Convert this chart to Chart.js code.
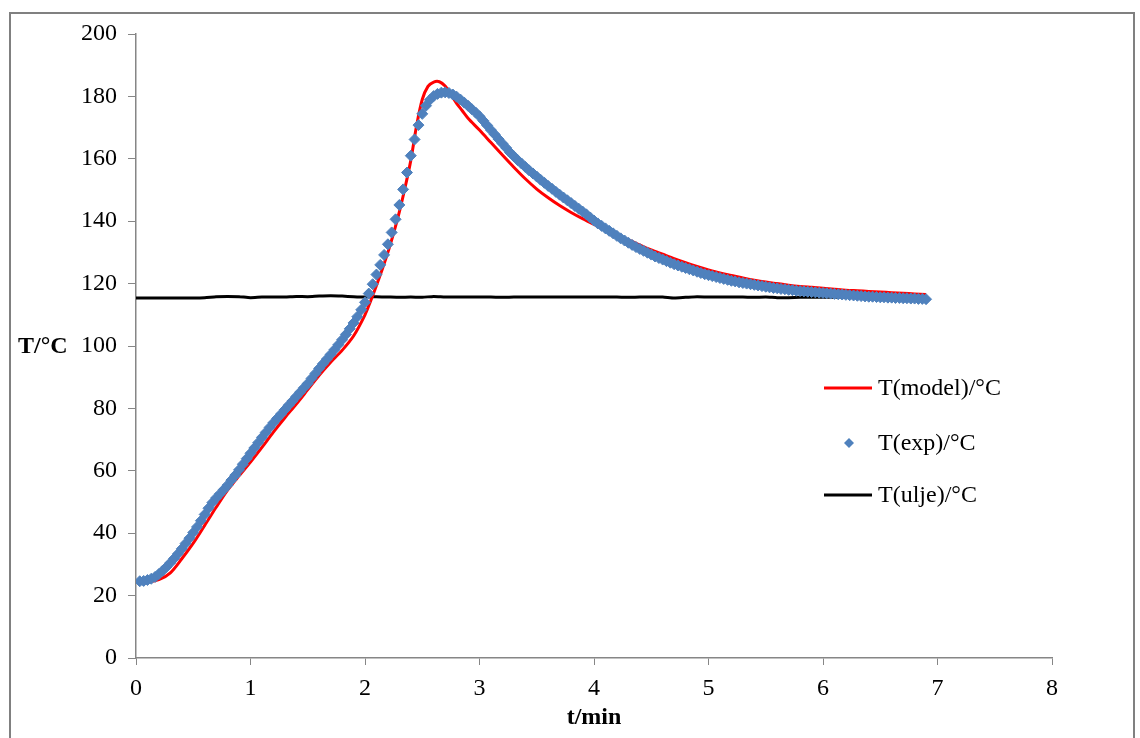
<!DOCTYPE html>
<html>
<head>
<meta charset="utf-8">
<script src="https://cdn.jsdelivr.net/npm/chart.js@4.4.0/dist/chart.umd.min.js"></script>
<style>
  body { margin: 0; background: #fff; }
  #wrap { position: relative; width: 1140px; height: 738px; overflow: hidden; }
  #frame { position: absolute; left: 9px; top: 12px; width: 1122px; height: 740px; border: 2px solid #808080; }
  #tempChart { position: absolute; left: 0; top: 0; }
</style>
</head>
<body>
<div id="wrap">
  <div id="frame"></div>
  <canvas id="tempChart" width="1140" height="738"></canvas>
</div>
<script>
// measured temperature, sampled every 2 s (time in min)
var expTime = [
  0.033,0.067,0.1,0.133,0.167,0.2,0.233,0.267,0.3,0.333,0.367,0.4,0.433,0.467,0.5,0.533,0.567,0.6,0.633,0.667,0.7,0.733,0.767,0.8,0.833,0.867,0.9,0.933,0.967,1.0,
  1.033,1.067,1.1,1.133,1.167,1.2,1.233,1.267,1.3,1.333,1.367,1.4,1.433,1.467,1.5,1.533,1.567,1.6,1.633,1.667,1.7,1.733,1.767,1.8,1.833,1.867,1.9,1.933,1.967,2.0,
  2.033,2.067,2.1,2.133,2.167,2.2,2.233,2.267,2.3,2.333,2.367,2.4,2.433,2.467,2.5,2.533,2.567,2.6,2.633,2.667,2.7,2.733,2.767,2.8,2.833,2.867,2.9,2.933,2.967,3.0,
  3.033,3.067,3.1,3.133,3.167,3.2,3.233,3.267,3.3,3.333,3.367,3.4,3.433,3.467,3.5,3.533,3.567,3.6,3.633,3.667,3.7,3.733,3.767,3.8,3.833,3.867,3.9,3.933,3.967,4.0,
  4.033,4.067,4.1,4.133,4.167,4.2,4.233,4.267,4.3,4.333,4.367,4.4,4.433,4.467,4.5,4.533,4.567,4.6,4.633,4.667,4.7,4.733,4.767,4.8,4.833,4.867,4.9,4.933,4.967,5.0,
  5.033,5.067,5.1,5.133,5.167,5.2,5.233,5.267,5.3,5.333,5.367,5.4,5.433,5.467,5.5,5.533,5.567,5.6,5.633,5.667,5.7,5.733,5.767,5.8,5.833,5.867,5.9,5.933,5.967,6.0,
  6.033,6.067,6.1,6.133,6.167,6.2,6.233,6.267,6.3,6.333,6.367,6.4,6.433,6.467,6.5,6.533,6.567,6.6,6.633,6.667,6.7,6.733,6.767,6.8,6.833,6.867,6.9
];
var expTemp = [
  24.6,24.7,25.0,25.4,26.0,26.9,28.0,29.2,30.5,31.9,33.4,35.0,36.7,38.4,40.2,42.0,44.0,46.0,48.0,49.8,51.3,52.6,54.0,55.4,57.0,58.6,60.3,62.1,63.9,65.6,
  67.3,69.0,70.7,72.3,73.9,75.4,76.8,78.2,79.6,81.0,82.4,83.8,85.2,86.6,88.0,89.6,91.2,92.8,94.3,95.8,97.3,98.8,100.4,102.0,103.7,105.5,107.4,109.4,111.6,114.0,
  116.8,119.8,122.9,126.0,129.2,132.6,136.4,140.6,145.2,150.2,155.6,161.0,166.2,170.8,174.4,177.0,178.9,180.1,180.8,181.2,181.3,181.1,180.6,179.9,179.0,178.0,177.0,175.9,174.8,173.6,
  172.2,170.7,169.2,167.8,166.3,164.9,163.5,162.0,160.8,159.6,158.5,157.4,156.3,155.3,154.3,153.3,152.3,151.3,150.4,149.4,148.5,147.6,146.7,145.8,144.9,144.0,143.1,142.2,141.2,140.2,
  139.3,138.5,137.7,136.9,136.1,135.3,134.5,133.8,133.1,132.4,131.7,131.1,130.5,129.9,129.3,128.7,128.2,127.7,127.2,126.7,126.2,125.8,125.4,125.0,124.6,124.2,123.8,123.4,123.0,122.7,
  122.4,122.1,121.8,121.5,121.2,120.9,120.7,120.4,120.2,120.0,119.8,119.6,119.4,119.2,119.0,118.8,118.6,118.5,118.3,118.2,118.0,117.9,117.7,117.6,117.5,117.4,117.3,117.2,117.1,117.0,
  116.9,116.8,116.7,116.6,116.5,116.4,116.3,116.2,116.1,116.0,115.9,115.8,115.8,115.7,115.6,115.6,115.5,115.5,115.4,115.4,115.3,115.3,115.2,115.2,115.1,115.1,115.0
];

// model prediction
var modelTime = [
  0.05,0.1,0.2,0.3,0.4,0.5,0.6,0.7,0.8,0.9,1.0,1.1,1.2,1.3,1.4,1.5,1.6,1.7,1.8,1.9,
  2.0,2.05,2.1,2.15,2.2,2.25,2.3,2.35,2.4,2.45,2.5,2.55,2.6,2.65,2.7,2.75,2.8,2.85,2.9,
  3.0,3.1,3.2,3.3,3.4,3.5,3.6,3.7,3.8,3.9,4.0,4.1,4.2,4.3,4.4,4.5,4.6,4.7,4.8,4.9,
  5.0,5.1,5.2,5.3,5.4,5.5,5.6,5.7,5.8,5.9,6.0,6.1,6.2,6.3,6.4,6.5,6.6,6.7,6.8,6.9
];
var modelTemp = [
  24.4,24.4,25.1,27.3,31.8,36.8,42.5,48.3,53.8,58.4,62.8,67.5,72.4,77.0,81.4,86.0,90.6,94.8,98.6,103.2,
  110.0,114.5,119.4,124.5,130.0,136.2,143.0,150.8,159.5,170.5,179.0,183.2,184.6,184.7,183.3,180.6,177.8,175.4,173.0,
  169.2,165.2,161.2,157.3,153.6,150.3,147.5,145.0,142.8,140.8,139.0,137.3,135.7,134.0,132.4,130.8,129.4,128.0,126.7,125.5,
  124.4,123.4,122.6,121.8,121.1,120.5,120.0,119.5,119.1,118.8,118.5,118.2,117.9,117.7,117.5,117.3,117.1,116.9,116.7,116.5
];

// oil bath temperature
var oilTime = [
  0.0,0.1,0.2,0.3,0.4,0.5,0.6,0.7,0.8,0.9,1.0,1.1,1.2,1.3,1.4,1.5,1.6,1.7,1.8,1.9,
  2.0,2.1,2.2,2.3,2.4,2.5,2.6,2.7,2.8,2.9,3.0,3.1,3.2,3.3,3.4,3.5,3.6,3.7,3.8,3.9,
  4.0,4.1,4.2,4.3,4.4,4.5,4.6,4.7,4.8,4.9,5.0,5.1,5.2,5.3,5.4,5.5,5.6,5.7,5.8,5.9,
  6.0,6.1,6.2,6.3,6.4,6.5,6.6,6.7,6.8,6.9
];
var oilTemp = [
  115.4,115.4,115.4,115.4,115.4,115.4,115.5,115.8,115.9,115.8,115.5,115.7,115.7,115.7,115.9,115.8,116.0,116.1,116.0,115.8,
  115.7,115.8,115.7,115.6,115.7,115.6,115.9,115.7,115.7,115.7,115.7,115.7,115.6,115.7,115.7,115.7,115.7,115.7,115.7,115.7,
  115.7,115.7,115.7,115.6,115.7,115.7,115.7,115.4,115.6,115.8,115.7,115.7,115.7,115.7,115.6,115.7,115.5,115.5,115.6,115.6,
  115.6,115.6,115.6,115.6,115.6,115.6,115.6,115.6,115.6,115.6
];

var xTicks = [0, 1, 2, 3, 4, 5, 6, 7, 8];
var yTicks = [0, 20, 40, 60, 80, 100, 120, 140, 160, 180, 200];

function pairs(xs, ys) {
  return xs.map(function (x, i) { return { x: x, y: ys[i] }; });
}

var serif = "'Liberation Serif', 'Times New Roman', serif";
var axisGray = '#868686';

// legend and axis titles drawn by hand inside the plot
var labelsPlugin = {
  id: 'labels',
  afterDraw: function (chart) {
    var ctx = chart.ctx;
    ctx.save();
    ctx.fillStyle = '#000';
    ctx.textBaseline = 'middle';
    ctx.font = 'bold 24px ' + serif;
    ctx.textAlign = 'left';
    ctx.fillText('T/°C', 18, 347);
    ctx.textAlign = 'center';
    ctx.fillText('t/min', (chart.chartArea.left + chart.chartArea.right) / 2, 718);

    var rows = [388, 443, 495];
    ctx.font = '24px ' + serif;
    ctx.textAlign = 'left';
    chart.data.datasets.forEach(function (ds, i) {
      var y = rows[i];
      if (ds.showLine === false) {
        ctx.fillStyle = ds.pointBackgroundColor;
        ctx.beginPath();
        ctx.moveTo(849 - 5, y);
        ctx.lineTo(849, y - 5);
        ctx.lineTo(849 + 5, y);
        ctx.lineTo(849, y + 5);
        ctx.closePath();
        ctx.fill();
      } else {
        ctx.strokeStyle = ds.borderColor;
        ctx.lineWidth = ds.borderWidth;
        ctx.beginPath();
        ctx.moveTo(824, y);
        ctx.lineTo(872, y);
        ctx.stroke();
      }
      ctx.fillStyle = '#000';
      ctx.fillText(ds.label, 878, y + 1);
    });
    ctx.restore();
  }
};

new Chart(document.getElementById('tempChart'), {
  type: 'scatter',
  data: {
    datasets: [{
      label: 'T(model)/°C',
      data: pairs(modelTime, modelTemp),
      showLine: true,
      borderColor: '#FF0000',
      borderWidth: 3,
      pointRadius: 0,
      tension: 0.3,
      order: 1
    }, {
      label: 'T(exp)/°C',
      data: pairs(expTime, expTemp),
      showLine: false,
      pointStyle: 'rectRot',
      pointRadius: 5.5,
      pointBorderWidth: 1,
      pointBackgroundColor: '#4F81BD',
      pointBorderColor: '#4F81BD',
      order: 0
    }, {
      label: 'T(ulje)/°C',
      data: pairs(oilTime, oilTemp),
      showLine: true,
      borderColor: '#000000',
      borderWidth: 3,
      pointRadius: 0,
      tension: 0.2,
      order: 2
    }]
  },
  options: {
    responsive: false,
    animation: false,
    layout: { padding: { left: 0, top: 34, right: 88, bottom: 0 } },
    plugins: {
      legend: { display: false },
      tooltip: { enabled: false }
    },
    scales: {
      x: {
        type: 'linear',
        min: xTicks[0],
        max: xTicks[xTicks.length - 1],
        afterBuildTicks: function (scale) { scale.ticks = xTicks.map(function (v) { return { value: v }; }); },
        afterFit: function (scale) { scale.height = 80; },
        grid: { drawOnChartArea: false, drawTicks: true, tickLength: 7, tickColor: axisGray },
        border: { display: true, color: axisGray, width: 1.5 },
        ticks: { color: '#000', padding: 9, font: { family: serif, size: 24 } }
      },
      y: {
        type: 'linear',
        min: yTicks[0],
        max: yTicks[yTicks.length - 1],
        afterBuildTicks: function (scale) { scale.ticks = yTicks.map(function (v) { return { value: v }; }); },
        afterFit: function (scale) { scale.width = 136; },
        grid: { drawOnChartArea: false, drawTicks: true, tickLength: 8, tickColor: axisGray },
        border: { display: true, color: axisGray, width: 1.5 },
        ticks: { color: '#000', padding: 11, font: { family: serif, size: 24 } }
      }
    }
  },
  plugins: [labelsPlugin]
});
</script>
</body>
</html>
